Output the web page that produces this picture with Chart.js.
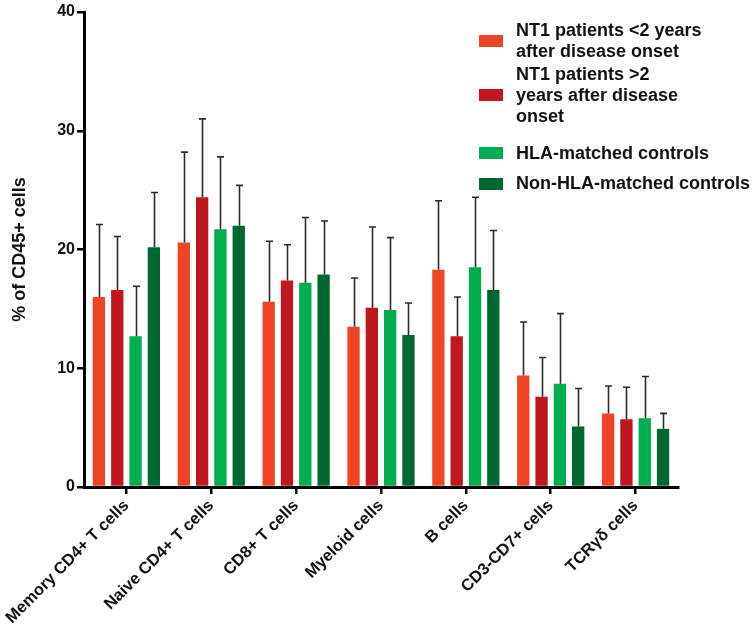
<!DOCTYPE html>
<html>
<head>
<meta charset="utf-8">
<script src="https://cdn.jsdelivr.net/npm/chart.js@4/dist/chart.umd.min.js"></script>
<style>
  html, body { margin: 0; padding: 0; background: #fff; }
  #wrap { position: relative; width: 752px; height: 627px; }
  #chart { position: absolute; left: 0; top: 0; }
  #legend { position: absolute; left: 479px; top: 20px; font: bold 18px Arial, "Liberation Sans", sans-serif; color: #111; white-space: nowrap; }
  .item { position: relative; display: flex; align-items: center; line-height: 20.7px; }
  .swatch { width: 24px; height: 12px; margin-right: 13px; flex: none; }
</style>
</head>
<body>
<div id="wrap">
  <canvas id="chart" width="752" height="627"></canvas>
  <div id="legend"></div>
</div>
<script>
// Cell populations on the x axis
const categories = [
  "Memory CD4+ T cells", "Naive CD4+ T cells", "CD8+ T cells",
  "Myeloid cells", "B cells", "CD3-CD7+ cells", "TCRγδ cells"
];

// Mean % of CD45+ cells per group
const nt1Early   = [16.0, 20.6, 15.6, 13.5, 18.3, 9.4, 6.2];
const nt1Late    = [16.6, 24.4, 17.4, 15.1, 12.7, 7.6, 5.7];
const hlaMatched = [12.7, 21.7, 17.2, 14.9, 18.5, 8.7, 5.8];
const nonHla     = [20.2, 22.0, 17.9, 12.8, 16.6, 5.1, 4.9];

// Standard deviations (upper error bars)
const nt1EarlySd   = [6.1, 7.6, 5.1, 4.1, 5.8, 4.5, 2.3];
const nt1LateSd    = [4.5, 6.6, 3.0, 6.8, 3.3, 3.3, 2.7];
const hlaMatchedSd = [4.2, 6.1, 5.5, 6.1, 5.9, 5.9, 3.5];
const nonHlaSd     = [4.6, 3.4, 4.5, 2.7, 5.0, 3.2, 1.3];

// Y axis ticks
const yTicks = [0, 10, 20, 30, 40];

const seriesLabels = [
  ["NT1 patients <2 years", "after disease onset"],
  ["NT1 patients >2", "years after disease", "onset"],
  ["HLA-matched controls"],
  ["Non-HLA-matched controls"]
];
const colors = ["#EF4427", "#C0161F", "#00AD4F", "#006830"];
const values = [nt1Early, nt1Late, hlaMatched, nonHla];
const sds = [nt1EarlySd, nt1LateSd, hlaMatchedSd, nonHlaSd];

const FONT = "Arial, 'Liberation Sans', sans-serif";

// Upper SD whiskers drawn from each bar's top
const errorBars = {
  id: "errorBars",
  afterDatasetsDraw(chart) {
    const ctx = chart.ctx;
    const yScale = chart.scales.y;
    ctx.save();
    ctx.strokeStyle = "#2b2b2b";
    ctx.lineWidth = 1.6;
    chart.data.datasets.forEach((ds, i) => {
      const meta = chart.getDatasetMeta(i);
      meta.data.forEach((bar, j) => {
        const top = yScale.getPixelForValue(ds.data[j] + ds.sd[j]);
        const x = Math.round(bar.x) + 0.5;
        ctx.beginPath();
        ctx.moveTo(x, bar.y);
        ctx.lineTo(x, top);
        ctx.moveTo(x - 3.5, top);
        ctx.lineTo(x + 3.5, top);
        ctx.stroke();
      });
    });
    ctx.restore();
  }
};

const chart = new Chart(document.getElementById("chart"), {
  type: "bar",
  data: {
    labels: categories,
    datasets: values.map((v, i) => ({
      label: seriesLabels[i].join(" "),
      data: v,
      sd: sds[i],
      backgroundColor: colors[i],
      categoryPercentage: 0.863,
      barPercentage: 0.672
    }))
  },
  options: {
    responsive: false,
    animation: false,
    devicePixelRatio: 1,
    layout: { padding: { left: 0, right: 74, top: 12, bottom: 0 } },
    plugins: {
      legend: { display: false },
      tooltip: { enabled: false }
    },
    scales: {
      x: {
        grid: { display: true, offset: false, drawOnChartArea: false, drawTicks: true, tickLength: 7, color: "#000", lineWidth: 2.5 },
        border: { display: true, color: "#000", width: 3 },
        ticks: {
          color: "#111",
          font: { family: FONT, size: 16.5, weight: "bold" },
          minRotation: 45, maxRotation: 45, padding: 2, autoSkip: false
        },
        afterFit(scale) { scale.height = 140; }
      },
      y: {
        min: 0, max: 40,
        afterBuildTicks(scale) { scale.ticks = yTicks.map(v => ({ value: v })); },
        grid: { display: true, drawOnChartArea: false, drawTicks: true, tickLength: 7, color: "#000", lineWidth: 2.5 },
        border: { display: true, color: "#000", width: 3 },
        ticks: {
          color: "#111",
          font: { family: FONT, size: 16, weight: "bold" },
          padding: 2
        },
        title: {
          display: true,
          text: "% of CD45+ cells",
          color: "#111",
          font: { family: FONT, size: 18, weight: "bold" },
          padding: { top: 9, bottom: 4 }
        },
        afterFit(scale) { scale.width = 84; }
      }
    }
  },
  plugins: [errorBars]
});

// Legend entries
const legend = document.getElementById("legend");
const gaps = [0, 3, 16.5, 9.5];
seriesLabels.forEach((lines, i) => {
  const item = document.createElement("div");
  item.className = "item";
  item.style.marginTop = gaps[i] + "px";
  const sw = document.createElement("div");
  sw.className = "swatch";
  sw.style.background = colors[i];
  const txt = document.createElement("div");
  txt.innerHTML = lines.join("<br>");
  item.appendChild(sw);
  item.appendChild(txt);
  legend.appendChild(item);
});
</script>
</body>
</html>
